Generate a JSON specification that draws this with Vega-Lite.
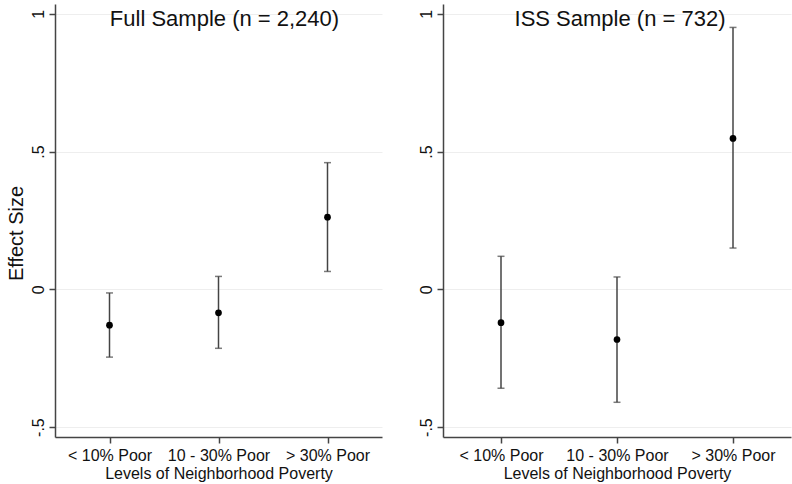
{
  "$schema": "https://vega.github.io/schema/vega-lite/v6.json",
  "background": "white",
  "padding": {"left": 6, "top": 4, "right": 1, "bottom": 2},
  "bounds": "flush",
  "spacing": 61,
  "config": {
    "font": "Liberation Sans",
    "view": {"stroke": null},
    "axis": {
      "domainColor": "#444444",
      "domainWidth": 1.5,
      "tickColor": "#444444",
      "tickWidth": 1.5,
      "tickSize": 6,
      "labelColor": "#111111",
      "titleColor": "#111111",
      "labelFont": "Liberation Sans",
      "titleFont": "Liberation Sans",
      "labelFontSize": 16,
      "titleFontWeight": "normal",
      "gridColor": "#eeeeee",
      "gridWidth": 1
    }
  },
  "datasets": {
    "full": [
      {"poverty": "< 10% Poor", "est": -0.130, "lo": -0.246, "hi": -0.013},
      {"poverty": "10 - 30% Poor", "est": -0.085, "lo": -0.214, "hi": 0.047},
      {"poverty": "> 30% Poor", "est": 0.262, "lo": 0.065, "hi": 0.460}
    ],
    "iss": [
      {"poverty": "< 10% Poor", "est": -0.121, "lo": -0.359, "hi": 0.120},
      {"poverty": "10 - 30% Poor", "est": -0.182, "lo": -0.410, "hi": 0.045},
      {"poverty": "> 30% Poor", "est": 0.548, "lo": 0.150, "hi": 0.951}
    ]
  },
  "hconcat": [
    {
      "width": 327,
      "height": 433,
      "data": {"name": "full"},
      "encoding": {
        "x": {"field": "poverty", "type": "nominal", "sort": ["< 10% Poor", "10 - 30% Poor", "> 30% Poor"],
              "scale": {"type": "point", "padding": 0.5},
              "axis": {"title": "Levels of Neighborhood Poverty", "titleFontSize": 16, "labelAngle": 0, "labelPadding": 4, "titlePadding": 2, "grid": false}}
      },
      "layer": [
        {
          "mark": {"type": "rule", "color": "#444444", "strokeWidth": 1.5},
          "encoding": {
            "y": {"field": "lo", "type": "quantitative",
                  "scale": {"domain": [-0.536, 1.036], "nice": false, "zero": false},
                  "axis": {"title": "Effect Size", "titleFontSize": 20, "titleY": 229, "titlePadding": 4,
                           "values": [-0.5, 0, 0.5, 1], "labelAngle": 270, "labelAlign": "center", "labelBaseline": "bottom", "labelPadding": 3,
                           "labelExpr": "replace(toString(datum.value), '0.', '.')", "grid": true}},
            "y2": {"field": "hi"}
          }
        },
        {
          "mark": {"type": "tick", "color": "#444444", "size": 7, "thickness": 1.5},
          "encoding": {"y": {"field": "lo", "type": "quantitative"}}
        },
        {
          "mark": {"type": "tick", "color": "#444444", "size": 7, "thickness": 1.5},
          "encoding": {"y": {"field": "hi", "type": "quantitative"}}
        },
        {
          "mark": {"type": "point", "filled": true, "color": "#000000", "size": 45, "opacity": 1},
          "encoding": {"y": {"field": "est", "type": "quantitative"}}
        },
        {
          "data": {"values": [{"label": "Full Sample (n = 2,240)"}]},
          "mark": {"type": "text", "font": "Liberation Sans", "fontSize": 22, "fontWeight": "normal", "color": "#111111", "baseline": "alphabetic", "align": "center", "dy": 12, "dx": 6},
          "encoding": {
            "x": {"datum": "10 - 30% Poor"},
            "y": {"datum": 1},
            "text": {"field": "label"}
          }
        }
      ]
    },
    {
      "width": 348,
      "height": 433,
      "data": {"name": "iss"},
      "encoding": {
        "x": {"field": "poverty", "type": "nominal", "sort": ["< 10% Poor", "10 - 30% Poor", "> 30% Poor"],
              "scale": {"type": "point", "padding": 0.5},
              "axis": {"title": "Levels of Neighborhood Poverty", "titleFontSize": 16, "labelAngle": 0, "labelPadding": 4, "titlePadding": 2, "grid": false}}
      },
      "layer": [
        {
          "mark": {"type": "rule", "color": "#444444", "strokeWidth": 1.5},
          "encoding": {
            "y": {"field": "lo", "type": "quantitative",
                  "scale": {"domain": [-0.536, 1.036], "nice": false, "zero": false},
                  "axis": {"title": null,
                           "values": [-0.5, 0, 0.5, 1], "labelAngle": 270, "labelAlign": "center", "labelBaseline": "bottom", "labelPadding": 3,
                           "labelExpr": "replace(toString(datum.value), '0.', '.')", "grid": true}},
            "y2": {"field": "hi"}
          }
        },
        {
          "mark": {"type": "tick", "color": "#444444", "size": 7, "thickness": 1.5},
          "encoding": {"y": {"field": "lo", "type": "quantitative"}}
        },
        {
          "mark": {"type": "tick", "color": "#444444", "size": 7, "thickness": 1.5},
          "encoding": {"y": {"field": "hi", "type": "quantitative"}}
        },
        {
          "mark": {"type": "point", "filled": true, "color": "#000000", "size": 45, "opacity": 1},
          "encoding": {"y": {"field": "est", "type": "quantitative"}}
        },
        {
          "data": {"values": [{"label": "ISS Sample (n = 732)"}]},
          "mark": {"type": "text", "font": "Liberation Sans", "fontSize": 22, "fontWeight": "normal", "color": "#111111", "baseline": "alphabetic", "align": "center", "dy": 12, "dx": 3},
          "encoding": {
            "x": {"datum": "10 - 30% Poor"},
            "y": {"datum": 1},
            "text": {"field": "label"}
          }
        }
      ]
    }
  ]
}
